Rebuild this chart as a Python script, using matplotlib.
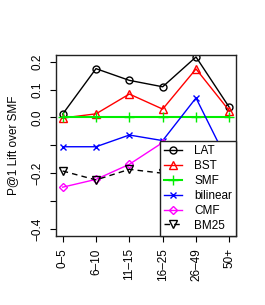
import matplotlib
matplotlib.use("Agg")
import matplotlib.pyplot as plt

# buckets along x
groups = ["0\u20135", "6\u201310", "11\u201315", "16\u201325", "26\u201349", "50+"]

# P@1 lift over SMF (hidden points under the legend are guesses)
lat = [0.012, 0.175, 0.133, 0.110, 0.217, 0.036]
bst = [-0.002, 0.013, 0.084, 0.030, 0.174, 0.024]
smf = [0.0, 0.0, 0.0, 0.0, 0.0, 0.0]
bilinear = [-0.105, -0.105, -0.063, -0.083, 0.070, -0.170]
cmf = [-0.250, -0.222, -0.168, -0.090, -0.120, -0.150]
bm25 = [-0.192, -0.224, -0.186, -0.200, -0.230, -0.250]

plt.rcParams["font.family"] = ["Liberation Sans", "DejaVu Sans"]
plt.rcParams["font.size"] = 8

fig = plt.figure(figsize=(2.65, 3.05), dpi=100)
ax = fig.add_axes([0.2113, 0.2272, 0.6793, 0.5925])

x = list(range(1, len(groups) + 1))
ms = 5
ax.plot(x, lat, color="black", lw=1, marker="o", mfc="none", ms=ms, label="LAT")
ax.plot(x, bst, color="red", lw=1, marker="^", mfc="none", ms=ms + 1, label="BST")
ax.plot(x, smf, color="#00ee00", lw=1.5, marker="+", ms=ms + 2, label="SMF")
ax.plot(x, bilinear, color="blue", lw=1, marker="x", ms=ms, label="bilinear")
ax.plot(x, cmf, color="magenta", lw=1, marker="D", mfc="none", ms=ms - 1, label="CMF")
ax.plot(x, bm25, color="black", lw=1, ls=(0, (4, 3)), marker="v", mfc="none", ms=ms + 1, label="BM25")

ax.set_xlim(0.8, 6.2)
ax.set_ylim(-0.424, 0.224)
ax.set_xticks(x)
ax.set_xticklabels(groups, rotation=90, fontsize=8.5)
ax.set_yticks([-0.4, -0.3, -0.2, -0.1, 0.0, 0.1, 0.2])
ax.set_yticklabels(["\u22120.4", "", "\u22120.2", "", "0.0", "0.1", "0.2"],
                   rotation=90, va="center", fontsize=8.5)
ax.tick_params(length=4, width=0.8)
ax.tick_params(axis="x", pad=5)
ax.tick_params(axis="y", pad=5)
ax.set_ylabel("P@1 Lift over SMF", labelpad=9, fontsize=8.5)
for s in ax.spines.values():
    s.set_linewidth(1)
    s.set_color("#222222")

leg = ax.legend(loc="lower right", borderaxespad=0, fancybox=False, framealpha=1,
                edgecolor="#222222", handlelength=1.5, handletextpad=1.0,
                labelspacing=0.24, borderpad=0.35, fontsize=8.5)
leg.get_frame().set_linewidth(1)

fig.savefig("out.png", dpi=100)
